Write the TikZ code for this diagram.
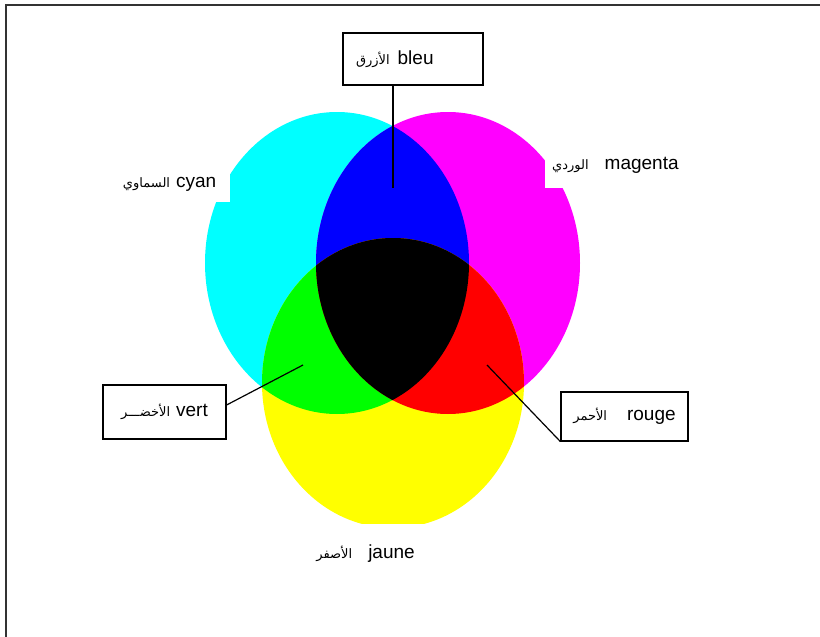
\documentclass[tikz,border=0pt]{standalone}
\usepackage{fontspec}
\setmainfont{Liberation Sans}
\newfontfamily\arabicfont[Script=Arabic]{DejaVu Sans}
\TeXXeTstate=1
\newcommand{\arword}[1]{{\arabicfont\fontsize{6.5}{8}\selectfont\beginR #1\endR}}

\definecolor{inkcyan}{RGB}{0,255,255}
\definecolor{inkmagenta}{RGB}{255,0,255}
\definecolor{inkyellow}{RGB}{255,255,0}
\definecolor{litblue}{RGB}{0,0,255}
\definecolor{litgreen}{RGB}{0,255,0}
\definecolor{litred}{RGB}{255,0,0}

\tikzset{
  labelbox/.style={draw, fill=white, line width=0.6pt, inner sep=0pt, font=\fontsize{9.5}{11}\selectfont},
  freelabel/.style={fill=white, inner sep=0pt, font=\fontsize{9.5}{11}\selectfont},
  leader/.style={line width=0.6pt},
}

\begin{document}
\begin{tikzpicture}[x=0.5pt,y=-0.5pt]
\useasboundingbox (0,0) rectangle (820,637);
\draw[line width=1pt, black!80] (6,637) -- (6,5) -- (820,5);

% the three disks
\def\cyandisk{(337,263) ellipse (132 and 151)}
\def\magentadisk{(448,263) ellipse (132 and 151)}
\def\yellowdisk{(393,383) ellipse (131 and 145)}
\fill[inkcyan] \cyandisk;
\fill[inkmagenta] \magentadisk;
\fill[inkyellow] \yellowdisk;

% overlaps
\begin{scope}
\clip \cyandisk;
\fill[litblue] \magentadisk;
\end{scope}
\begin{scope}
\clip \cyandisk;
\fill[litgreen] \yellowdisk;
\end{scope}
\begin{scope}
\clip \magentadisk;
\fill[litred] \yellowdisk;
\end{scope}
\begin{scope}
\clip \cyandisk;
\clip \magentadisk;
\fill[black] \yellowdisk;
\end{scope}

% names beside the disks
\node[freelabel, anchor=south east, minimum width=60pt, minimum height=17pt] (cyanname) at (230,202)
  {\arword{السماوي}\hspace{3pt}cyan};
\node[freelabel, anchor=south west, minimum width=70pt, minimum height=22pt] (magentaname) at (545,188)
  {\arword{الوردي}\hspace{8pt}magenta};
\node[freelabel, anchor=north east, minimum width=67pt, minimum height=29pt] (jaunename) at (433,524)
  {\arword{الأصفر}\hspace{8pt}jaune};

% boxed names
\node[labelbox, inner xsep=6.5pt, text width=57pt, align=left, minimum height=26pt] (bleubox) at (413,59)
  {\arword{الأزرق}\hspace{4pt}bleu};
\node[labelbox, minimum width=61.5pt, minimum height=27pt] (vertbox) at (164.5,412)
  {\arword{الأخضـــر}\hspace{3pt}vert};
\node[labelbox, minimum width=63.5pt, minimum height=24.5pt] (rougebox) at (624.5,416.5)
  {\arword{الأحمر}\hspace{10pt}rouge};

\coordinate (bleutip) at (393,188);
\coordinate (verttip) at (303,365);
\coordinate (rougetip) at (487,365);
\draw[leader] (bleutip |- bleubox.south) -- (bleutip);
\draw[leader] ([yshift=3.5pt]vertbox.east) -- (verttip);
\draw[leader] (rougebox.south west) -- (rougetip);
\end{tikzpicture}
\end{document}
